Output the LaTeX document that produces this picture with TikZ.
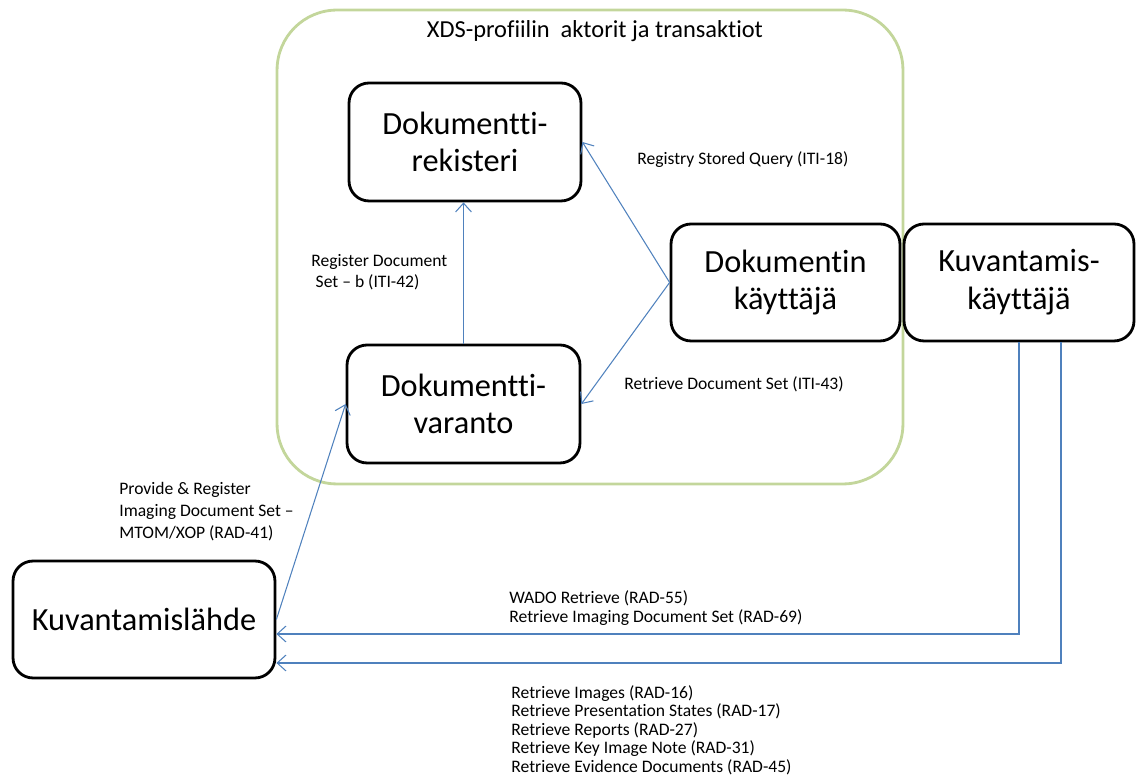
\documentclass[tikz,border=0pt]{standalone}
\usepackage{fontspec}
\setmainfont[Ligatures={NoCommon,NoContextual,NoRequired,NoRare},Contextuals=NoAlternate]{Carlito}
\usepackage{xcolor}
\usetikzlibrary{arrows.meta,positioning}

\definecolor{linkblue}{RGB}{79,129,189}
\definecolor{boxgreen}{RGB}{195,214,155}

\begin{document}
\begin{tikzpicture}[x=0.02cm, y=-0.02cm,
    actor/.style={draw, line width=1.6pt, rounded corners=0.4cm, align=center,
        inner sep=0pt, font=\fontsize{18.4}{21.5}\selectfont},
    msg/.style={draw=linkblue, line width=0.6pt, -{Straight Barb[length=5pt,width=9pt]}},
    lbl/.style={anchor=west, align=left, inner sep=0pt, font=\fontsize{10}{10.5}\selectfont}]
    \useasboundingbox (0,0) rectangle (1136,776);

    % XDS profile frame
    \node[draw=boxgreen, line width=1.6pt, rounded corners=1.2cm,
        minimum width=12.52cm, minimum height=9.48cm] (xds) at (590,247) {};
    \node[below=0.24cm of xds.north, xshift=0.1cm, inner sep=0pt, font=\fontsize{13.9}{15}\selectfont]
        (otsikko) {XDS-profiilin\ \ aktorit ja transaktiot};

    % Actors
    \node[actor, minimum width=4.64cm, minimum height=2.36cm] (rekisteri) at (465,142) {Dokumentti-\\rekisteri};
    \node[actor, minimum width=4.66cm, minimum height=2.36cm] (varanto) at (463.5,404) {Dokumentti-\\varanto};
    \node[actor, minimum width=4.58cm, minimum height=2.34cm] (kayttaja) at (785.5,282.5) {Dokumentin\\käyttäjä};
    \node[actor, minimum width=4.60cm, minimum height=2.34cm] (kuvkayttaja) at (1019,282.5) {Kuvantamis-\\käyttäjä};
    \node[actor, minimum width=5.24cm, minimum height=2.34cm] (lahde) at (144,619.5) {Kuvantamislähde};

    % Transactions
    \draw[msg] (varanto.north) -- (varanto.north |- rekisteri.south);
    \draw[msg] (kayttaja.west) -- (rekisteri.east);
    \draw[msg] (kayttaja.west) -- (varanto.east);
    \draw[msg] (lahde.east) -- (varanto.west);
    \draw[msg] (kuvkayttaja.south) |- ([yshift=-0.29cm]lahde.east);
    \draw[msg] ([xshift=0.84cm]kuvkayttaja.south) |- ([yshift=-0.87cm]lahde.east);

    % Transaction labels
    \node[lbl] (iti18) at (637,160) {Registry Stored Query (ITI-18)};
    \node[lbl, font=\fontsize{10}{12}\selectfont] (iti42) at (311,272) {Register Document\\\hspace{0.25em}Set – b (ITI-42)};
    \node[lbl] (iti43) at (624,384) {Retrieve Document Set (ITI-43)};
    \node[lbl, font=\fontsize{10}{12.5}\selectfont] (rad41) at (119,512)
        {Provide \& Register\\Imaging Document Set –\\MTOM/XOP (RAD-41)};
    \node[lbl] (rad55) at (509,608) {WADO Retrieve (RAD-55)\\Retrieve Imaging Document Set (RAD-69)};
    \node[lbl] (rad16) at (511,730) {Retrieve Images (RAD-16)\\Retrieve Presentation States (RAD-17)\\
        Retrieve Reports (RAD-27)\\Retrieve Key Image Note (RAD-31)\\Retrieve Evidence Documents (RAD-45)};
\end{tikzpicture}
\end{document}
